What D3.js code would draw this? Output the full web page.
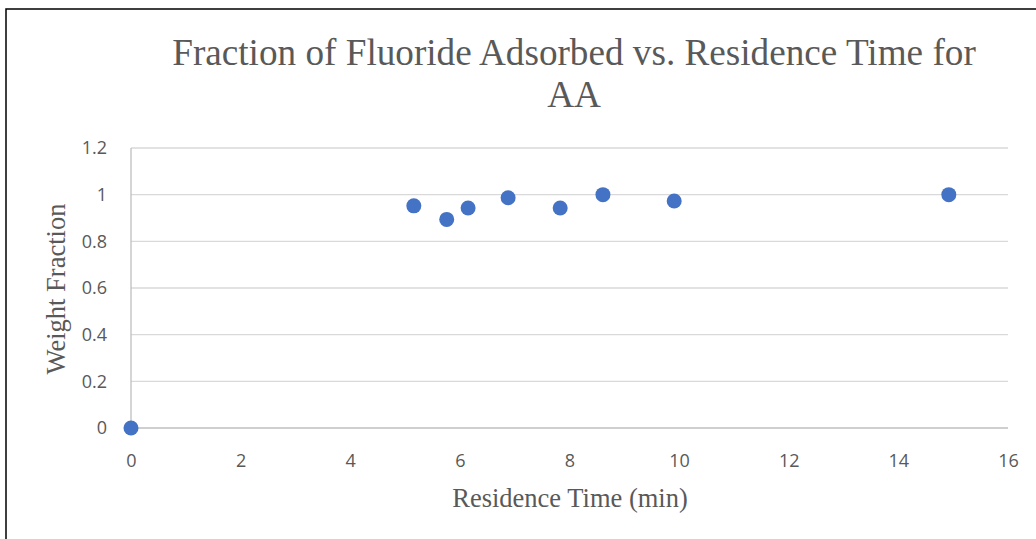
<!DOCTYPE html>
<html>
<head>
<meta charset="utf-8">
<script src="https://cdn.jsdelivr.net/npm/d3@7"></script>
<style>
  body { margin: 0; background: #fff; }
  svg { display: block; }
</style>
</head>
<body>
<div id="chart"></div>
<script>
// Data
var residenceTime = [0, 5.16, 5.76, 6.15, 6.88, 7.83, 8.61, 9.91, 14.92];
var weightFraction = [0, 0.952, 0.894, 0.943, 0.987, 0.943, 1.0, 0.973, 1.0];
var xTicks = [0, 2, 4, 6, 8, 10, 12, 14, 16];
var yTicks = [0, 0.2, 0.4, 0.6, 0.8, 1, 1.2];
var titleLines = ["Fraction of Fluoride Adsorbed vs. Residence Time for", "AA"];

var svgWidth = 1036, svgHeight = 539;
var margin = { top: 148, right: 28, bottom: 111, left: 131 };
var width = svgWidth - margin.left - margin.right;
var height = svgHeight - margin.top - margin.bottom;

var svg = d3.select("#chart").append("svg")
  .attr("width", svgWidth)
  .attr("height", svgHeight);

// chart border (only left/top visible in the picture)
svg.append("rect")
  .attr("x", 6).attr("y", 9)
  .attr("width", 1040).attr("height", 540)
  .attr("fill", "none")
  .attr("stroke", "#000")
  .attr("stroke-width", 1.5);

var g = svg.append("g").attr("transform", `translate(${margin.left}, ${margin.top})`);

var x = d3.scaleLinear().domain([0, 16]).range([0, width]);
var y = d3.scaleLinear().domain([0, 1.2]).range([height, 0]);

// gridlines
g.selectAll("line.grid").data(yTicks.slice(1)).enter().append("line")
  .attr("class", "grid")
  .attr("x1", 0).attr("x2", width)
  .attr("y1", d => y(d)).attr("y2", d => y(d))
  .attr("stroke", "#d9d9d9").attr("stroke-width", 1.3);

// axis lines
g.append("line").attr("x1", 0).attr("x2", width).attr("y1", height).attr("y2", height)
  .attr("stroke", "#bfbfbf").attr("stroke-width", 1.3);
g.append("line").attr("x1", 0).attr("x2", 0).attr("y1", 0).attr("y2", height)
  .attr("stroke", "#bfbfbf").attr("stroke-width", 1.3);

// tick labels
var bottomAxis = d3.axisBottom(x).tickValues(xTicks).tickSize(0).tickPadding(26).tickFormat(d3.format("d"));
var leftAxis = d3.axisLeft(y).tickValues(yTicks).tickSize(0).tickPadding(24).tickFormat(d => d3.format("")(+d.toFixed(1)));

var xAxis = g.append("g").attr("transform", `translate(0, ${height})`).call(bottomAxis);
var yAxis = g.append("g").call(leftAxis);
[xAxis, yAxis].forEach(function(a) {
  a.select(".domain").remove();
  a.selectAll("text")
    .attr("fill", "#595959")
    .style("font-family", "'Open Sans', 'Liberation Sans', sans-serif")
    .style("font-size", "18px");
});

// points
g.selectAll("circle").data(residenceTime).enter().append("circle")
  .attr("cx", d => x(d))
  .attr("cy", (d, i) => y(weightFraction[i]))
  .attr("r", 7.5)
  .attr("fill", "#4472c4");

// title
svg.append("text")
  .attr("x", 574).attr("y", 65)
  .attr("text-anchor", "middle")
  .attr("fill", "#595959")
  .style("font-family", "'Liberation Serif', 'Times New Roman', serif")
  .style("font-size", "37.2px")
  .selectAll("tspan").data(titleLines).enter().append("tspan")
  .attr("x", 574)
  .attr("dy", (d, i) => i === 0 ? 0 : 42)
  .text(d => d);

// axis titles
svg.append("text")
  .attr("x", 570).attr("y", 507)
  .attr("text-anchor", "middle")
  .attr("fill", "#595959")
  .style("font-family", "'Liberation Serif', 'Times New Roman', serif")
  .style("font-size", "26.5px")
  .text("Residence Time (min)");

svg.append("text")
  .attr("transform", "translate(65, 289) rotate(-90)")
  .attr("text-anchor", "middle")
  .attr("fill", "#595959")
  .style("font-family", "'Liberation Serif', 'Times New Roman', serif")
  .style("font-size", "26.5px")
  .text("Weight Fraction");
</script>
</body>
</html>
